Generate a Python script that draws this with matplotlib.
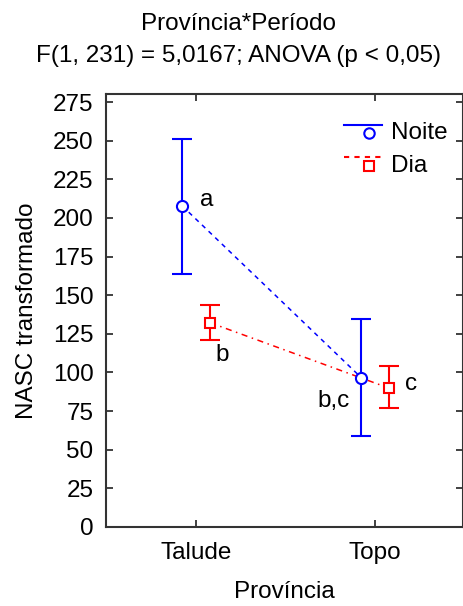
import matplotlib
matplotlib.use("Agg")
import matplotlib.pyplot as plt
from matplotlib.lines import Line2D
from matplotlib.legend_handler import HandlerBase

plt.rcParams['font.family'] = ['Liberation Sans', 'DejaVu Sans']

provincias = ["Talude", "Topo"]
noite_mean = [207.8, 96.6]
noite_low = [163.7, 59.1]
noite_high = [251.0, 134.4]
dia_mean = [132.2, 89.8]
dia_low = [121.0, 76.8]
dia_high = [143.5, 104.4]
letras_noite = ["a", "b,c"]
letras_dia = ["b", "c"]
yticks = [0, 25, 50, 75, 100, 125, 150, 175, 200, 225, 250, 275]

FS = 17.5
blue = "#0000ff"
red = "#ff0000"
ls_noite = (0, (3, 3))
ls_dia = (0, (4, 3, 1, 3))

fig = plt.figure(figsize=(4.64, 6.06), dpi=100)
ax = fig.add_axes([0.2284, 0.1304, 0.7696, 0.7145])

off = 0.078
xn = [i - off for i in range(len(provincias))]
xd = [i + off for i in range(len(provincias))]

ax.plot(xn, noite_mean, ls=ls_noite, color=blue, lw=1.1, zorder=2)
ax.plot(xd, dia_mean, ls=ls_dia, color=red, lw=1.1, zorder=2)

ax.errorbar(xn, noite_mean,
            yerr=[[m - l for m, l in zip(noite_mean, noite_low)],
                  [h - m for m, h in zip(noite_mean, noite_high)]],
            fmt="o", color=blue, mfc="white", mec=blue, ms=8, mew=1.5,
            ecolor=blue, elinewidth=1.5, capsize=7.5, capthick=1.5, zorder=3)
ax.errorbar(xd, dia_mean,
            yerr=[[m - l for m, l in zip(dia_mean, dia_low)],
                  [h - m for m, h in zip(dia_mean, dia_high)]],
            fmt="s", color=red, mfc="white", mec=red, ms=7.5, mew=1.5,
            ecolor=red, elinewidth=1.5, capsize=7, capthick=1.5, zorder=3)

# significance letters
ax.annotate(letras_noite[0], (xn[0], noite_mean[0]), xytext=(13, 4),
            textcoords="offset points", fontsize=FS, ha="left", va="center")
ax.annotate(letras_dia[0], (xd[0], dia_mean[0]), xytext=(4, -23),
            textcoords="offset points", fontsize=FS, ha="left", va="center")
ax.annotate(letras_noite[1], (xn[1], noite_mean[1]), xytext=(-8, -17),
            textcoords="offset points", fontsize=FS, ha="right", va="center")
ax.annotate(letras_dia[1], (xd[1], dia_mean[1]), xytext=(11, 3),
            textcoords="offset points", fontsize=FS, ha="left", va="center")

ax.set_xlim(-0.503, 1.49)
ax.set_ylim(0, 280.2)
ax.set_xticks(range(len(provincias)))
ax.set_xticklabels(provincias)
ax.set_yticks(yticks)
ax.tick_params(direction="in", top=True, right=True, labelsize=FS,
               length=5, width=1.3, colors="#333333", labelcolor="black")
ax.tick_params(axis="y", pad=9)
ax.tick_params(axis="x", pad=11)
for s in ax.spines.values():
    s.set_linewidth(1.5)
    s.set_color("#333333")

ax.set_xlabel("Província", fontsize=FS, labelpad=12)
ax.set_ylabel("NASC transformado", fontsize=FS, labelpad=10.5)
fig.text(0.513, 0.979, "Província*Período\nF(1, 231) = 5,0167; ANOVA (p < 0,05)",
         fontsize=FS, ha="center", va="top", linespacing=1.62)


class LineMarkerHandler(HandlerBase):
    """Legend key: a line with the marker hanging just below its right part."""

    def __init__(self, linestyle, marker, color):
        super().__init__()
        self.linestyle = linestyle
        self.marker = marker
        self.color = color

    def create_artists(self, legend, orig_handle, xdescent, ydescent,
                       width, height, fontsize, trans):
        yline = height * 0.85 - ydescent
        ymark = height * 0.35 - ydescent
        line = Line2D([-xdescent, width - xdescent], [yline, yline],
                      color=self.color, lw=1.5, ls=self.linestyle,
                      transform=trans)
        xm = -xdescent + width * 0.66
        mark = Line2D([xm], [ymark], marker=self.marker, color=self.color,
                      mfc="white", mec=self.color, ms=7.5, mew=1.5,
                      transform=trans)
        return [line, mark]


h_noite = Line2D([], [], color=blue)
h_dia = Line2D([], [], color=red)
ax.legend([h_noite, h_dia], ["Noite", "Dia"], loc="upper right",
          frameon=False, fontsize=FS, handlelength=1.55, handletextpad=0.35,
          bbox_to_anchor=(1.017, 0.985), labelspacing=0.42,
          handler_map={h_noite: LineMarkerHandler("-", "o", blue),
                       h_dia: LineMarkerHandler((0, (2.5, 2.5)), "s", red)})

fig.savefig("out.png", dpi=100)
